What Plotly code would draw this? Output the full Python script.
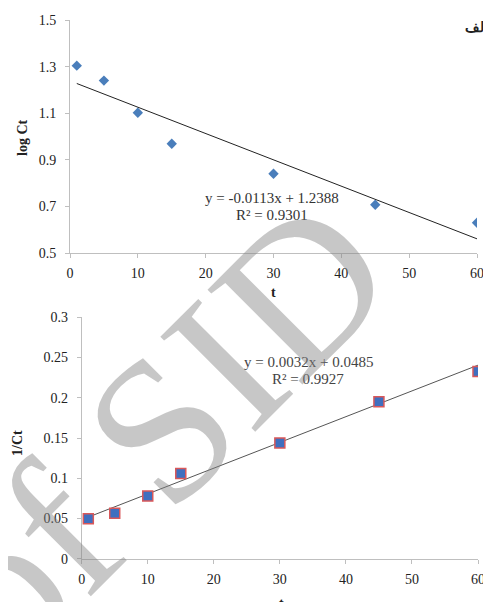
import plotly.graph_objects as go

# ---- data ----
t_vals = [1, 5, 10, 15, 30, 45, 60]
log_ct = [1.304, 1.240, 1.102, 0.969, 0.840, 0.707, 0.630]
inv_ct = [0.0497, 0.0564, 0.078, 0.106, 0.1438, 0.1952, 0.2325]

fit1_slope, fit1_int, fit1_r2 = -0.0113, 1.2388, 0.9301
fit2_slope, fit2_int, fit2_r2 = 0.0032, 0.0485, 0.9927
fit_t = [1, 60]

top_xticks = [0, 10, 20, 30, 40, 50, 60]
top_yticks = [0.5, 0.7, 0.9, 1.1, 1.3, 1.5]
bot_yticks = [0, 0.05, 0.1, 0.15, 0.2, 0.25, 0.3]

# page body has an 8px margin; size figure so it ends at the window edge
OFF = 8
W, H = 491 - OFF, 602 - OFF
FONT = "Liberation Serif, Times New Roman, serif"

def px(x):
    return (x - OFF) / W

def py(y):
    return 1 - (y - OFF) / H

fig = go.Figure()

# top panel
fig.add_trace(go.Scatter(
    x=t_vals, y=log_ct, mode="markers",
    marker=dict(symbol="diamond", size=8, color="#4a7ebb", line=dict(width=0)),
    xaxis="x", yaxis="y", showlegend=False))
fig.add_trace(go.Scatter(
    x=fit_t, y=[fit1_slope * t + fit1_int for t in fit_t], mode="lines",
    line=dict(color="#222222", width=1),
    xaxis="x", yaxis="y", showlegend=False))

# bottom panel
fig.add_trace(go.Scatter(
    x=fit_t, y=[fit2_slope * t + fit2_int for t in fit_t], mode="lines",
    line=dict(color="#555555", width=1),
    xaxis="x2", yaxis="y2", showlegend=False))
fig.add_trace(go.Scatter(
    x=t_vals, y=inv_ct, mode="markers",
    marker=dict(symbol="square", size=10, color="#3f6fbf",
                line=dict(width=1.5, color="#d9585a")),
    xaxis="x2", yaxis="y2", showlegend=False))

axis_common = dict(
    showgrid=False, zeroline=False, showline=True, linecolor="#bfbfbf",
    linewidth=1, ticks="outside", ticklen=4, tickcolor="#bfbfbf",
    automargin=False,
    tickfont=dict(family=FONT, size=14, color="#222222"),
)

fig.update_layout(
    width=W, height=H,
    margin=dict(l=0, r=0, t=0, b=0, pad=0, autoexpand=False),
    paper_bgcolor="white", plot_bgcolor="white",
    xaxis=dict(domain=[px(70), px(477)], range=[0, 60], tickvals=top_xticks,
               anchor="y", ticklabelstandoff=3, **axis_common),
    yaxis=dict(domain=[py(253), py(20)], range=[0.5, 1.5], tickvals=top_yticks,
               tickformat=".1f", anchor="x", ticklabelstandoff=6, **axis_common),
    xaxis2=dict(domain=[px(81.7), px(478)], range=[0, 60], tickvals=top_xticks,
                anchor="y2", ticklabelstandoff=3, **axis_common),
    yaxis2=dict(domain=[py(558.7), py(317.3)], range=[0, 0.3], tickvals=bot_yticks,
                anchor="x2", ticklabelstandoff=6, **axis_common),
)

def ann(text, x, y, size=14, bold=False, angle=0, color="#222222", xanchor="center"):
    fig.add_annotation(
        text=f"<b>{text}</b>" if bold else text,
        x=px(x), y=py(y), xref="paper", yref="paper",
        xanchor=xanchor, yanchor="middle", showarrow=False, textangle=angle,
        font=dict(family=FONT, size=size, color=color))

ann("log Ct", 22, 138, bold=True, angle=-90)
ann("1/Ct", 17, 443, bold=True, angle=-90)
ann("t", 273, 292, bold=True)
ann("t", 281, 603, bold=True)
ann("الف", 490, 27, bold=True, xanchor="right")
ann("ب", 484, 325, bold=True, xanchor="left")

ann(f"y = {fit1_slope}x + {fit1_int}", 272, 198, size=15, color="#333333")
ann(f"R² = {fit1_r2}", 272, 215, size=15, color="#333333")
ann(f"y = {fit2_slope}x + {fit2_int}", 308, 362, size=15, color="#444444")
ann(f"R² = {fit2_r2}", 308, 379, size=15, color="#444444")

# watermark
ann("of SID", 158, 430, size=205, angle=-45, color="rgba(130,130,130,0.45)")

fig.write_html("out.html")
